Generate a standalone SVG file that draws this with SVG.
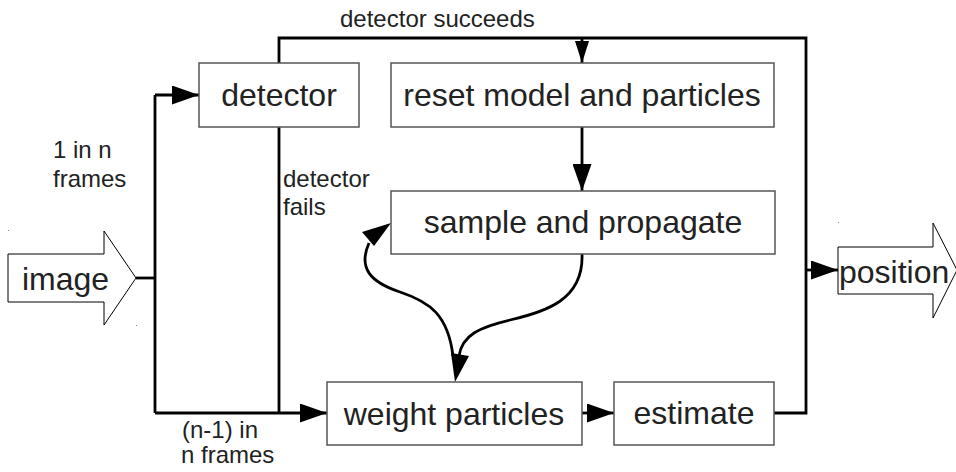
<svg xmlns="http://www.w3.org/2000/svg" width="956" height="472" viewBox="0 0 956 472">
<defs>
<style>
.box{fill:#fff;stroke:#555;stroke-width:1.5}
.big{font-family:"Liberation Sans",Arial,sans-serif;font-size:32px;fill:#222}
.sm{font-family:"Liberation Sans",Arial,sans-serif;font-size:24px;fill:#222}
.ln{fill:none;stroke:#000;stroke-width:2.8}
.shape{fill:#fff;stroke:#000;stroke-width:1}
</style>
<marker id="ah" viewBox="0 0 27 19" refX="27" refY="9.5" markerWidth="27" markerHeight="19" markerUnits="userSpaceOnUse" orient="auto">
<path d="M0,0 L27,9.5 L0,19 z" fill="#000"/>
</marker>
<marker id="ahs" viewBox="0 0 22 14" refX="22" refY="7" markerWidth="22" markerHeight="14" markerUnits="userSpaceOnUse" orient="auto">
<path d="M0,0 L22,7 L0,14 z" fill="#000"/>
</marker>
</defs>
<rect width="956" height="472" fill="#fff"/>
<g id="connectors">
<line class="ln" x1="136" y1="278" x2="155" y2="278"/>
<line class="ln" x1="155" y1="95" x2="155" y2="413"/>
<line class="ln" x1="155" y1="95" x2="199" y2="95" marker-end="url(#ah)"/>
<line class="ln" x1="155" y1="413" x2="327" y2="413" marker-end="url(#ah)"/>
<path class="ln" d="M774 413 H806 V38 H279 V63"/>
<line class="ln" x1="582" y1="38" x2="582" y2="63" marker-end="url(#ahs)"/>
<line class="ln" x1="279" y1="127" x2="279" y2="413"/>
<line class="ln" x1="582" y1="127" x2="582" y2="191" marker-end="url(#ah)"/>
<line class="ln" x1="582" y1="413" x2="614" y2="413" marker-end="url(#ah)"/>
<line class="ln" x1="806" y1="270" x2="838" y2="270" marker-end="url(#ah)"/>
<path class="ln" d="M369 243 C358 268 370 282 400 292 C430 302 448 315 453 356"/>
<path class="ln" d="M582 254 C584 300 545 312 510 320 C480 327 462 335 459 356"/>
<polygon points="451,353 469,356 455,382" fill="#000"/>
<polygon points="362,232 374,246 391,223" fill="#000"/>
</g>
<g id="image">
<polygon class="shape" points="8,254 104,254 104,231 136,278 104,325 104,302 8,302"/>
<text class="big" x="22" y="290">image</text>
</g>
<g id="position">
<polygon class="shape" points="838,247 933,247 933,223 957,270 933,318 933,294 838,294"/>
<text class="big" x="839" y="283">position</text>
</g>
<g id="detector">
<rect class="box" x="199" y="63" width="160" height="64"/>
<text class="big" x="279" y="106" text-anchor="middle">detector</text>
</g>
<g id="reset">
<rect class="box" x="391" y="63" width="383" height="64"/>
<text class="big" x="582" y="106" text-anchor="middle">reset model and particles</text>
</g>
<g id="sample">
<rect class="box" x="391" y="191" width="384" height="63"/>
<text class="big" x="583" y="233" text-anchor="middle">sample and propagate</text>
</g>
<g id="weight">
<rect class="box" x="327" y="382" width="255" height="63"/>
<text class="big" x="454" y="425" text-anchor="middle">weight particles</text>
</g>
<g id="estimate">
<rect class="box" x="614" y="382" width="160" height="63"/>
<text class="big" x="694" y="424" text-anchor="middle">estimate</text>
</g>
<g id="labels">
<text class="sm" x="340" y="27">detector succeeds</text>
<text class="sm" x="53" y="158">1 in n</text>
<text class="sm" x="53" y="187">frames</text>
<text class="sm" x="283" y="187">detector</text>
<text class="sm" x="283" y="215">fails</text>
<text class="sm" x="182" y="438">(n-1) in</text>
<text class="sm" x="181" y="463">n frames</text>
</g>
<g id="ticks" fill="#888">
<rect x="8" y="230" width="1" height="1"/>
<rect x="136" y="325" width="1" height="1"/>
<rect x="838" y="222" width="1" height="1"/>
</g>
</svg>
